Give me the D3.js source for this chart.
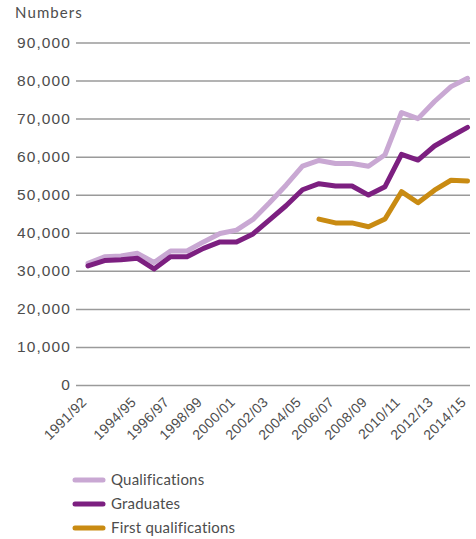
<!DOCTYPE html>
<html>
<head>
<meta charset="utf-8">
<script src="https://cdn.jsdelivr.net/npm/d3@7"></script>
<style>
  html, body { margin: 0; padding: 0; background: #fff; }
  svg { display: block; font-family: "Lato", "Open Sans", sans-serif; }
</style>
</head>
<body>
<svg id="chart" width="476" height="539"></svg>
<script>
// Academic years, one point per year
const years = [
  "1991/92","1992/93","1993/94","1994/95","1995/96","1996/97","1997/98","1998/99",
  "1999/00","2000/01","2001/02","2002/03","2003/04","2004/05","2005/06","2006/07",
  "2007/08","2008/09","2009/10","2010/11","2011/12","2012/13","2013/14","2014/15"
];
// Years shown as x-axis labels
const tickYears = [
  "1991/92","1994/95","1996/97","1998/99","2000/01","2002/03",
  "2004/05","2006/07","2008/09","2010/11","2012/13","2014/15"
];
const yTicks = [0, 10000, 20000, 30000, 40000, 50000, 60000, 70000, 80000, 90000];

const qualifications = [
  32000, 33700, 33900, 34600, 32200, 35200, 35200, 37600,
  39800, 40700, 43500, 47900, 52500, 57500, 59000, 58200,
  58200, 57500, 60500, 71600, 70000, 74500, 78400, 80600
];
const graduates = [
  31300, 32700, 32900, 33300, 30500, 33700, 33700, 35900,
  37600, 37600, 39700, 43400, 47100, 51300, 52900, 52300,
  52300, 49900, 52100, 60600, 59100, 62800, 65300, 67700
];
// First qualifications are recorded from 2005/06 onwards
const firstQualYears = years.slice(14);
const firstQualifications = [
  43600, 42600, 42600, 41600, 43600, 50800, 47900, 51200, 53800, 53600
];

const series = [
  { name: "Qualifications", color: "#c9a8d3", years: years, values: qualifications },
  { name: "Graduates", color: "#7c1f80", years: years, values: graduates },
  { name: "First qualifications", color: "#c98b12", years: firstQualYears, values: firstQualifications }
];

const svg = d3.select("#chart");
const gridLeft = 76, gridRight = 470;

const x = d3.scalePoint()
  .domain(years)
  .range([88, 467.5]);

const y = d3.scaleLinear()
  .domain([0, 90000])
  .range([385, 42.5]);

const textColor = "#4d4d4d";

// Horizontal gridlines with value labels
const yAxis = d3.axisLeft(y)
  .tickValues(yTicks)
  .tickSize(-(gridRight - gridLeft))
  .tickPadding(6)
  .tickFormat(d3.format(","));

const gy = svg.append("g")
  .attr("transform", `translate(${gridLeft},0)`)
  .call(yAxis);
gy.select(".domain").remove();
gy.selectAll(".tick line")
  .attr("stroke", "#9a9a9a")
  .attr("stroke-width", 1.5);
gy.selectAll(".tick text")
  .attr("fill", textColor)
  .attr("font-size", 15.5)
  .attr("letter-spacing", "1.1px")
  .attr("x", -5);

svg.append("text")
  .attr("x", 15)
  .attr("y", 18)
  .attr("fill", textColor)
  .attr("font-size", 15)
  .attr("letter-spacing", "1.1px")
  .text("Numbers");

// Rotated year labels
const xAxis = d3.axisBottom(x)
  .tickValues(tickYears)
  .tickSize(0)
  .tickPadding(0);

const gx = svg.append("g")
  .attr("transform", "translate(0,385)")
  .call(xAxis);
gx.select(".domain").remove();
gx.selectAll(".tick text")
  .attr("fill", textColor)
  .attr("font-size", 14)
  .attr("letter-spacing", "0.4px")
  .attr("text-anchor", "end")
  .attr("dy", 0)
  .attr("y", 0)
  .attr("transform", "translate(-1,18) rotate(-45)");

// Series lines
const line = d3.line()
  .x((d) => x(d.year))
  .y((d) => y(d.value));

series.forEach((s) => {
  const pts = s.years.map((yr, i) => ({ year: yr, value: s.values[i] }));
  svg.append("path")
    .datum(pts)
    .attr("fill", "none")
    .attr("stroke", s.color)
    .attr("stroke-width", 5)
    .attr("stroke-linejoin", "round")
    .attr("stroke-linecap", "round")
    .attr("d", line);
});

// Legend
const legend = svg.append("g").attr("transform", "translate(73,480)");
series.forEach((s, i) => {
  const g = legend.append("g").attr("transform", `translate(0,${i * 24})`);
  g.append("line")
    .attr("x1", 2).attr("x2", 30)
    .attr("y1", 0).attr("y2", 0)
    .attr("stroke", s.color)
    .attr("stroke-width", 5)
    .attr("stroke-linecap", "round");
  g.append("text")
    .attr("x", 38)
    .attr("y", 0)
    .attr("dy", "0.35em")
    .attr("fill", textColor)
    .attr("font-size", 15)
    .attr("letter-spacing", "0.2px")
    .text(s.name);
});
</script>
</body>
</html>
